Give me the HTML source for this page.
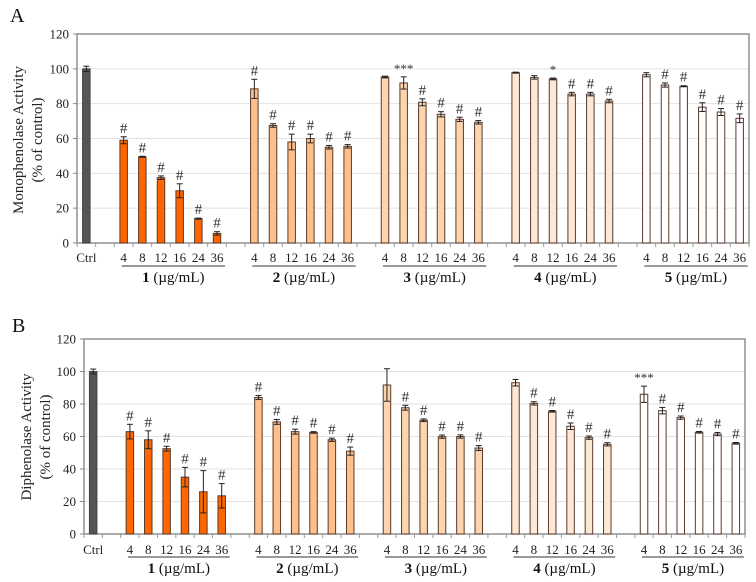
<!DOCTYPE html>
<html><head><meta charset="utf-8"><style>
body{margin:0;background:#fff;}
svg{display:block;}
svg text, svg tspan{font-family:"Liberation Serif","Times New Roman",serif;}
</style></head><body>
<svg id="fig" width="756" height="582" viewBox="0 0 756 582" font-family="Liberation Serif, serif"></svg>
<script>
const conc = ["4","8","12","16","24","36"];
const groups = ["1","2","3","4","5"];
const yTicks = [0,20,40,60,80,100,120];
const ctrlA = 100, ctrlErrA = 1.5, ctrlB = 100, ctrlErrB = 1.5;
const monoVals = [[59,49.5,37.5,30,14,5.5],[88.5,67.5,58,60,55,55.5],[95.3,91.9,80.8,73.9,71,69.3],[97.8,95.1,94.2,85.5,85.5,81.5],[96.6,90.7,90,78,75.2,71.6]];
const monoErr = [[2,0.3,1,4,0.3,1],[5.5,1,4.5,2.5,1,1],[0.5,3.5,2,1.5,1.2,1],[0.3,1,0.5,1,1,1],[1.2,1.2,0.3,2.5,2,2.5]];
const monoSig = [["#","#","#","#","#","#"],["#","#","#","#","#","#"],["","***","#","#","#","#"],["","","*","#","#","#"],["","#","#","#","#","#"]];
const diVals = [[63,58,52.5,35,26,23.5],[84,69,63,62.5,58,51],[91.7,77.7,70,59.9,60,52.9],[93.1,80.4,75.5,66.3,59.3,55.2],[86,75.9,71.6,62.6,61.5,55.8]];
const diErr = [[4.5,5.5,1.5,6,13,7.5],[1.2,1.5,1.5,0.5,1,2.5],[10,1.5,0.8,1,1,1.5],[2,1,0.5,2,1,1],[5,2,1,0.5,1,0.5]];
const diSig = [["#","#","#","#","#","#"],["#","#","#","#","#","#"],["","#","#","#","#","#"],["","#","#","#","#","#"],["***","#","#","#","#","#"]];
const fills = ["#ff6600","#fdbf8c","#fcd4b0","#fde8d6","#ffffff"];

const NS="http://www.w3.org/2000/svg";
const svg=document.getElementById('fig');
function mk(tag,attrs,parent,txt){const e=document.createElementNS(NS,tag);for(const k in attrs)e.setAttribute(k,attrs[k]);if(txt!==undefined)e.textContent=txt;(parent||svg).appendChild(e);return e;}

function panel(p){
  const g=mk('g',{});
  
  
  const L=p.left,R=p.right,T=p.top,B=p.bottom,n=36,sw=(R-L)/n;
  const y=v=>B-(v/120)*(B-T);
  const xc=i=>L+sw*(i+0.5);
  const lt=mk('text',{x:p.letterX,y:p.letterY,'font-size':20,fill:'#111'},g,p.letter);
  
  for(const t of yTicks){
    if(t>0&&t<120){const gl=mk('line',{x1:L,x2:R,y1:y(t),y2:y(t),stroke:'#e2e2e2','stroke-width':1},g);
      }
    mk('line',{x1:L-4,x2:L,y1:y(t),y2:y(t),stroke:'#888'},g);
    const tl=mk('text',{x:L-8,y:y(t)+4.5,'font-size':13,'text-anchor':'end',fill:'#222'},g,t);
    
  }
  const fr=mk('rect',{x:L,y:T,width:R-L,height:B-T,fill:'none',stroke:'#808080','stroke-width':1.3},g);
  
  for(let i=0;i<=n;i++)mk('line',{x1:L+sw*i,x2:L+sw*i,y1:B,y2:B+4,stroke:'#999'},g);
  const bw=7.5;
  function bar(i,v,e,fill,sig,label){
    const r=mk('rect',{x:xc(i)-bw/2,y:y(v),width:bw,height:B-y(v),fill:fill,stroke:fill==="#555555"?"#444":"#5a3a2a",'stroke-width':1},g);
    
    const x=xc(i);
    mk('line',{x1:x,x2:x,y1:y(v+e),y2:y(v-e),stroke:'#222','stroke-width':1},g);
    mk('line',{x1:x-3,x2:x+3,y1:y(v+e),y2:y(v+e),stroke:'#222'},g);
    mk('line',{x1:x-3,x2:x+3,y1:y(v-e),y2:y(v-e),stroke:'#222'},g);
    if(sig){const s=mk('text',{x:x,y:y(v+e)-4,'font-size':sig==="#"?15:13,'text-anchor':'middle',fill:'#333'},g,sig);
      }
  }
  bar(0,p.ctrl,p.ctrlErr,"#555555","",'bar-ctrl');
  const cl=mk('text',{x:xc(0),y:p.labY,'font-size':13,'text-anchor':'middle',fill:'#222'},g,'Ctrl');
  
  for(let gi=0;gi<groups.length;gi++){
    const s0=2+gi*7;
    for(let j=0;j<conc.length;j++){
      bar(s0+j,p.vals[gi][j],p.errs[gi][j],fills[gi],p.sigs[gi][j],'bar-g'+groups[gi]+'-'+conc[j]);
      const tl=mk('text',{x:xc(s0+j),y:p.labY,'font-size':13,'text-anchor':'middle',fill:'#222'},g,conc[j]);
      
    }
    const ul=mk('line',{x1:xc(s0)-2,x2:xc(s0+5)+8,y1:p.lineY,y2:p.lineY,stroke:'#333','stroke-width':1},g);
    
    const gt=mk('text',{x:(xc(s0)+xc(s0+5))/2+3,y:p.grpY,'font-size':15,'text-anchor':'middle',fill:'#111'},g);
    
    mk('tspan',{'font-weight':'bold'},gt,groups[gi]);
    mk('tspan',{},gt,' (\u00b5g/mL)');
  }
  const yt=mk('text',{transform:`translate(${p.titleX},${p.titleY}) rotate(-90)`,'font-size':15,'text-anchor':'middle',fill:'#222'},g);
  
  mk('tspan',{x:0,dy:0},yt,p.title);
  mk('tspan',{x:0,dy:19},yt,'(% of control)');
}
panel({name:'panel-a-monophenolase',letter:'A',letterX:10,letterY:22,left:77,right:749,top:34,bottom:243,labY:262,lineY:266,grpY:282,titleX:23,titleY:140,title:'Monophenolase Activity',vals:monoVals,errs:monoErr,sigs:monoSig,ctrl:ctrlA,ctrlErr:ctrlErrA});
panel({name:'panel-b-diphenolase',letter:'B',letterX:12,letterY:332,left:84,right:745,top:339,bottom:534,labY:554,lineY:557,grpY:573,titleX:31,titleY:437,title:'Diphenolase Activity',vals:diVals,errs:diErr,sigs:diSig,ctrl:ctrlB,ctrlErr:ctrlErrB});
</script>
</body></html>
